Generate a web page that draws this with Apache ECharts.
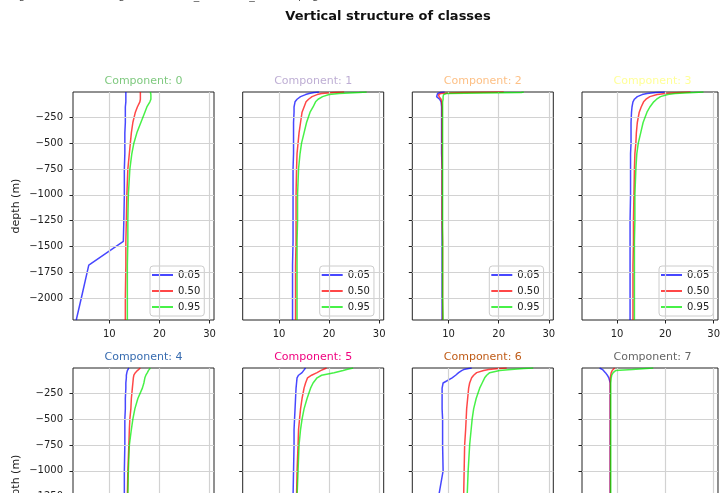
<!DOCTYPE html>
<html>
<head>
<meta charset="utf-8">
<script src="https://cdn.jsdelivr.net/npm/echarts@6/dist/echarts.min.js"></script>
<style>html,body{margin:0;padding:0;background:#fff;overflow:hidden;}#c{width:723px;height:620px;}</style>
</head>
<body>
<div id="c"></div>
<script>
// ---- data ----
const depth = [-5, -10, -20, -30, -50, -75, -100, -150, -200, -300, -400, -500, -600, -750, -1000, -1250, -1450, -1680, -2000, -2210];
const quantiles = ['0.05', '0.50', '0.95'];
const componentTitles = ['Component: 0', 'Component: 1', 'Component: 2', 'Component: 3', 'Component: 4', 'Component: 5', 'Component: 6', 'Component: 7'];
const xTicks = [10, 20, 30];
const yTicks = [-250, -500, -750, -1000, -1250, -1500, -1750, -2000];

const c0_05 = [13.3,13.3,13.3,13.3,13.3,13.3,13.3,13.2,13.2,13.2,13.1,13.1,13.1,13.0,13.0,12.9,12.8,5.9,4.4,3.4];
const c0_50 = [16.2,16.2,16.2,16.2,16.2,16.2,16.1,15.6,15.2,14.7,14.4,14.2,14.0,13.7,13.5,13.4,13.3,13.3,13.2,13.2];
const c0_95 = [18.2,18.2,18.3,18.3,18.3,18.3,18.1,17.5,17.1,16.3,15.5,14.9,14.5,14.1,13.8,13.7,13.7,13.6,13.6,13.6];

const c1_05 = [18.0,17.0,16.0,15.3,14.3,13.6,13.2,13.0,13.0,12.9,12.9,12.9,12.9,12.8,12.8,12.8,12.8,12.7,12.7,12.7];
const c1_50 = [23.0,21.0,18.5,17.6,16.6,15.9,15.4,15.0,14.6,14.3,14.0,13.8,13.6,13.5,13.4,13.4,13.4,13.3,13.3,13.3];
const c1_95 = [27.5,26.0,22.0,20.0,18.7,17.8,17.3,16.8,16.2,15.5,15.0,14.5,14.2,13.9,13.7,13.7,13.6,13.6,13.6,13.6];

const c2_05 = [9.2,8.4,7.8,7.5,7.6,8.2,8.5,8.6,8.6,8.6,8.6,8.6,8.6,8.7,8.7,8.7,8.7,8.7,8.7,8.7];
const c2_50 = [21.0,13.0,8.4,8.0,8.1,8.5,8.6,8.7,8.7,8.7,8.7,8.7,8.7,8.7,8.7,8.7,8.8,8.8,8.8,8.8];
const c2_95 = [25.0,24.5,9.6,9.0,8.9,8.9,8.8,8.8,8.8,8.8,8.8,8.8,8.8,8.8,8.8,8.8,8.8,8.8,8.8,8.9];

const c3_05 = [19.9,18.0,16.2,15.2,14.2,13.6,13.3,13.1,13.0,12.9,12.9,12.9,12.8,12.8,12.8,12.7,12.7,12.7,12.7,12.7];
const c3_50 = [25.2,23.0,20.0,18.3,16.8,16.0,15.5,15.0,14.6,14.2,14.0,13.9,13.7,13.6,13.5,13.4,13.4,13.3,13.3,13.3];
const c3_95 = [27.9,26.0,22.0,20.5,19.0,18.2,17.6,16.8,16.2,15.4,14.9,14.4,14.1,13.9,13.7,13.7,13.6,13.6,13.6,13.6];

const c4_05 = [13.9,13.8,13.7,13.6,13.5,13.4,13.4,13.3,13.3,13.2,13.2,13.1,13.1,13.1,13.0,13.0];
const c4_50 = [16.2,16.1,15.9,15.6,15.2,14.9,14.8,14.7,14.6,14.4,14.3,14.1,14.0,13.9,13.7,13.6];
const c4_95 = [18.2,18.1,18.0,17.8,17.6,17.3,17.1,16.9,16.6,15.7,15.1,14.7,14.4,14.0,13.8,13.7];

const c5_05 = [15.3,15.2,15.0,14.9,14.6,13.9,13.6,13.5,13.4,13.3,13.2,13.1,13.0,13.0,12.9,12.8];
const c5_50 = [19.5,19.3,18.8,18.3,17.6,16.5,15.7,15.3,15.0,14.6,14.3,14.1,13.9,13.8,13.6,13.5];
const c5_95 = [24.8,24.5,23.5,22.8,21.0,18.5,17.6,16.8,16.3,15.6,15.0,14.6,14.3,14.0,13.8,13.6];

const c6_05 = [14.6,14.0,13.0,12.6,12.0,11.4,10.7,8.9,8.7,8.7,8.7,8.8,8.8,8.8,8.9,8.0];
const c6_50 = [21.6,20.0,18.0,17.0,15.6,15.0,14.6,14.2,14.0,13.8,13.6,13.5,13.4,13.2,13.1,13.0];
const c6_95 = [26.9,25.0,22.5,20.2,18.2,17.6,17.2,16.7,16.2,15.5,15.0,14.7,14.5,14.2,13.9,13.7];

const c7_05 = [6.4,6.7,7.0,7.3,7.6,8.0,8.3,8.6,8.6,8.6,8.6,8.6,8.6,8.6,8.6,8.6];
const c7_50 = [9.5,9.4,9.2,9.0,8.8,8.7,8.6,8.6,8.6,8.6,8.6,8.6,8.6,8.6,8.6,8.6];
const c7_95 = [17.5,17.4,13.2,9.7,9.2,8.9,8.8,8.7,8.7,8.7,8.7,8.7,8.7,8.7,8.7,8.7];

const panels = [
  [c0_05, c0_50, c0_95], [c1_05, c1_50, c1_95], [c2_05, c2_50, c2_95], [c3_05, c3_50, c3_95],
  [c4_05, c4_50, c4_95], [c5_05, c5_50, c5_95], [c6_05, c6_50, c6_95], [c7_05, c7_50, c7_95]
];

// ---- styling / layout ----
const FONT = 'DejaVu Sans';
const titleColors = ['#7fc97f', '#beaed4', '#fdc086', '#ffff99', '#386cb0', '#f0027f', '#bf5b17', '#666666'];
const lineColors = ['rgba(0,0,255,0.72)', 'rgba(255,0,0,0.72)', 'rgba(0,235,0,0.72)'];
const lefts = [73, 242.7, 412.3, 582];
const tops = [92, 368];
const W = 141, H = 228;
const minus = v => String(v).replace('-', '\u2212');

const grid = [], xAxis = [], yAxis = [], series = [], legend = [], graphic = [];

graphic.push({type: 'text', x: 10, y: -4, style: {text: 'Figure saved on: ./figures/vertical_structure_classes.png', font: '11px "' + FONT + '"', fill: '#555', verticalAlign: 'middle'}});
graphic.push({type: 'text', x: 388, y: 17, style: {text: 'Vertical structure of classes', font: 'bold 13px "' + FONT + '"', fill: '#111', align: 'center', verticalAlign: 'middle'}});

for (let i = 0; i < 8; i++) {
  const row = Math.floor(i / 4), col = i % 4;
  grid.push({left: lefts[col], top: tops[row], width: W, height: H, show: true, borderColor: '#222', borderWidth: 1, backgroundColor: 'transparent', containLabel: false});
  xAxis.push({
    gridIndex: i, type: 'value', min: 2.75, max: 30.9,
    axisLine: {show: false, onZero: false}, splitLine: {show: false},
    axisTick: {show: true, customValues: xTicks, length: 3.5, lineStyle: {color: '#222'}},
    axisLabel: {show: true, customValues: xTicks, fontSize: 10, color: '#222', margin: 9, fontFamily: FONT}
  });
  yAxis.push({
    gridIndex: i, type: 'value', min: -2210, max: -5,
    axisLine: {show: false, onZero: false}, splitLine: {show: false},
    axisTick: {show: true, customValues: yTicks, length: 3.5, lineStyle: {color: '#222'}},
    axisLabel: {show: col === 0, customValues: yTicks, fontSize: 10, color: '#222', margin: 10, fontFamily: FONT, formatter: minus},
    name: col === 0 ? 'depth (m)' : '', nameLocation: 'middle', nameGap: 51, nameRotate: 90,
    nameTextStyle: {fontSize: 11, color: '#222', fontFamily: FONT}
  });
  graphic.push({type: 'text', x: lefts[col] + W / 2, y: tops[row] - 11, style: {text: componentTitles[i], font: '11px "' + FONT + '"', fill: titleColors[i], align: 'center', verticalAlign: 'middle'}});

  // grid lines via markLine on a hidden helper series
  series.push({
    type: 'line', name: 'grid', xAxisIndex: i, yAxisIndex: i, data: [[10, -5]], symbol: 'none',
    lineStyle: {width: 0, opacity: 0}, silent: true, z: 1, animation: false,
    markLine: {
      silent: true, symbol: ['none', 'none'], label: {show: false}, animation: false,
      lineStyle: {color: '#d2d2d2', type: 'solid', width: 1.2},
      emphasis: {disabled: true},
      data: yTicks.map(v => ({yAxis: v})).concat(xTicks.map(v => ({xAxis: v})))
    }
  });
  panels[i].forEach((vals, q) => {
    series.push({
      type: 'line', name: quantiles[q], xAxisIndex: i, yAxisIndex: i,
      data: vals.map((v, k) => [v, depth[k]]),
      symbol: 'none', showSymbol: false, color: lineColors[q],
      lineStyle: {width: 1.5, color: lineColors[q]}, z: 3 + q, animation: false, silent: true
    });
  });
  legend.push({
    left: lefts[col] + 77, top: tops[row] + 174, orient: 'vertical', data: quantiles,
    icon: 'rect', itemWidth: 21, itemHeight: 2, itemGap: 4, padding: [3, 4, 3, 2],
    borderColor: '#cccccc', borderWidth: 1, borderRadius: 3, backgroundColor: 'rgba(255,255,255,0.85)',
    textStyle: {fontSize: 10, color: '#222', lineHeight: 12, fontFamily: FONT}, selectedMode: false
  });
}

const chart = echarts.init(document.getElementById('c'), null, {renderer: 'canvas'});
chart.setOption({backgroundColor: '#fff', animation: false, grid, xAxis, yAxis, series, legend, graphic});
</script>
</body>
</html>
